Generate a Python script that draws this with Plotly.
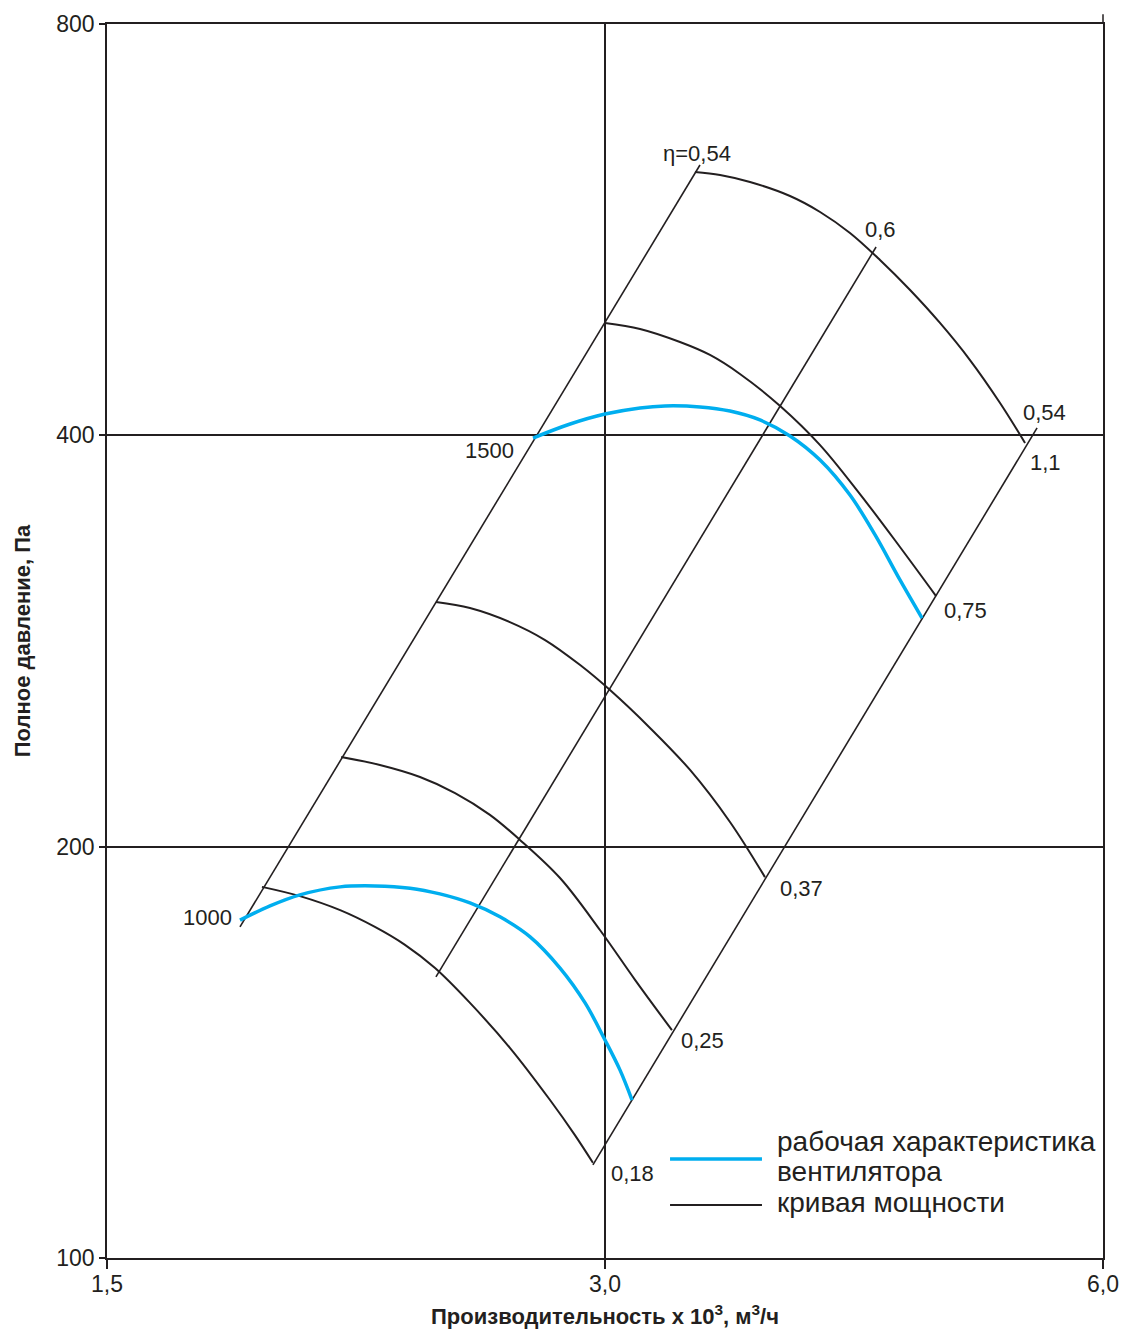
import math
import plotly.graph_objects as go

# ---- data (Q in 10^3 m3/h, P in Pa) ----
fan1500_q = [2.714, 2.858, 3.0, 3.150, 3.261, 3.424, 3.570, 3.722, 3.881, 4.047, 4.219, 4.369, 4.523, 4.664]
fan1500_p = [398.2, 407.7, 414.6, 418.9, 420.3, 419.6, 416.7, 410.5, 399.6, 383.7, 361.7, 338.2, 313.5, 294.0]

fan1000_q = [1.805, 1.882, 1.962, 2.075, 2.178, 2.287, 2.384, 2.486, 2.592, 2.703, 2.818, 2.918, 3.0, 3.063, 3.115]
fan1000_p = [176.7, 181.0, 184.4, 186.9, 187.2, 186.5, 184.7, 181.9, 177.7, 171.8, 163.0, 153.7, 144.4, 137.3, 130.5]

pw110_q = [3.400, 3.521, 3.671, 3.881, 4.047, 4.219, 4.399, 4.587, 4.782, 4.986, 5.199, 5.383]
pw110_p = [623.4, 620.3, 613.0, 598.7, 582.8, 562.5, 537.5, 511.0, 483.4, 454.1, 422.4, 394.9]

pw075_q = [3.0, 3.150, 3.330, 3.472, 3.620, 3.828, 4.047, 4.278, 4.523, 4.756]
pw075_p = [483.4, 478.5, 468.1, 458.0, 443.6, 420.3, 393.5, 362.3, 331.4, 305.1]

pw037_q = [2.371, 2.486, 2.628, 2.760, 2.898, 3.021, 3.194, 3.377, 3.570, 3.748]
pw037_p = [302.1, 299.0, 292.0, 283.3, 271.6, 260.4, 244.3, 227.6, 208.5, 190.0]

pw025_q = [2.078, 2.193, 2.319, 2.435, 2.556, 2.665, 2.818, 2.979, 3.128, 3.293]
pw025_p = [232.6, 229.5, 224.9, 218.9, 211.0, 202.3, 189.7, 173.8, 159.8, 146.8]

pw018_q = [1.861, 1.962, 2.075, 2.178, 2.271, 2.368, 2.486, 2.628, 2.779, 2.877, 2.950]
pw018_p = [186.9, 184.0, 179.7, 174.7, 169.5, 163.0, 153.7, 142.5, 130.5, 123.0, 117.4]

# straight efficiency / end lines
eta054_q = [1.805, 3.424]
eta054_p = [174.7, 630.8]
eta060_q = [2.371, 4.375]
eta060_p = [160.6, 549.4]
eta_end_q = [2.950, 5.474]
eta_end_p = [117.0, 405.0]

# labels on the chart
label_text = ["η=0,54", "0,6", "0,54", "1,1", "0,75", "0,37", "0,25", "0,18", "1500", "1000"]
label_q = [3.410, 4.405, 5.527, 5.535, 4.952, 3.941, 3.438, 3.115, 2.556, 1.724]
label_p = [643.7, 565.4, 416.0, 381.8, 298.0, 186.5, 144.2, 115.4, 389.6, 177.4]

x_ticks = [1.5, 3.0, 6.0]
x_ticktext = ["1,5", "3,0", "6,0"]
y_ticks = [100, 200, 400, 800]
y_ticktext = ["100", "200", "400", "800"]

legend_fan = "рабочая характеристика"
legend_fan2 = "вентилятора"
legend_power = "кривая мощности"

BLUE = "#00aeef"
BLACK = "#231f20"
FONT = "Liberation Sans, Arial, sans-serif"

fig = go.Figure()

black_sets = [
    (pw110_q, pw110_p), (pw075_q, pw075_p), (pw037_q, pw037_p),
    (pw025_q, pw025_p), (pw018_q, pw018_p),
]
for q, p in black_sets:
    fig.add_trace(go.Scatter(
        x=q, y=p, mode="lines", line=dict(color=BLACK, width=2, shape="spline"),
        name=legend_power, legendgroup="power", showlegend=False,
    ))

for q, p in [(eta054_q, eta054_p), (eta060_q, eta060_p), (eta_end_q, eta_end_p)]:
    fig.add_trace(go.Scatter(
        x=q, y=p, mode="lines", line=dict(color=BLACK, width=1.6),
        showlegend=False, hoverinfo="skip",
    ))

for q, p in [(fan1500_q, fan1500_p), (fan1000_q, fan1000_p)]:
    fig.add_trace(go.Scatter(
        x=q, y=p, mode="lines", line=dict(color=BLUE, width=3.5, shape="spline"),
        name=legend_fan + " " + legend_fan2, legendgroup="fan", showlegend=False,
    ))

for t, q, p in zip(label_text, label_q, label_p):
    fig.add_annotation(x=math.log10(q), y=math.log10(p), xref="x", yref="y",
                       text=t, showarrow=False,
                       font=dict(family=FONT, size=22, color=BLACK),
                       xanchor="center", yanchor="middle")

# manual legend (paper coordinates)
leg_x0, leg_x1, leg_tx = 0.5653, 0.6576, 0.6707
fig.add_shape(type="line", xref="paper", yref="paper", x0=leg_x0, x1=leg_x1,
              y0=0.0802, y1=0.0802, line=dict(color=BLUE, width=3.5))
fig.add_shape(type="line", xref="paper", yref="paper", x0=leg_x0, x1=leg_x1,
              y0=0.0430, y1=0.0430, line=dict(color=BLACK, width=2))
for t, yy in [(legend_fan, 0.0948), (legend_fan2, 0.0697), (legend_power, 0.0446)]:
    fig.add_annotation(x=leg_tx, y=yy, xref="paper", yref="paper", text=t,
                       showarrow=False, xanchor="left", yanchor="middle",
                       font=dict(family=FONT, size=28, color=BLACK))

# right frame line slightly overshoots the top edge, as in the original
fig.add_shape(type="line", xref="paper", yref="paper", x0=1, x1=1, y0=1, y1=1.008,
              line=dict(color=BLACK, width=1.5))

fig.update_layout(
    width=1123, height=1329,
    margin=dict(l=107, r=20, t=24, b=71),
    paper_bgcolor="white", plot_bgcolor="white",
    font=dict(family=FONT, color=BLACK),
    showlegend=False,
    xaxis=dict(type="log", range=[math.log10(1.5), math.log10(6.0)],
               automargin=False,
               tickvals=x_ticks, ticktext=x_ticktext,
               tickfont=dict(family=FONT, size=23, color=BLACK),
               ticks="outside", ticklen=9, tickcolor=BLACK, tickwidth=1.5,
               ticklabelstandoff=-4,
               showline=True, linecolor=BLACK, linewidth=1.5, mirror=True,
               showgrid=True, gridcolor=BLACK, gridwidth=1.5, zeroline=False,
               title=dict(text="<b>Производительность x 10<sup>3</sup>, м<sup>3</sup>/ч</b>",
                          font=dict(family=FONT, size=22, color=BLACK), standoff=12)),
    yaxis=dict(type="log", range=[2, math.log10(800)],
               automargin=False,
               tickvals=y_ticks, ticktext=y_ticktext,
               tickfont=dict(family=FONT, size=23, color=BLACK),
               ticks="outside", ticklen=6, tickcolor=BLACK, tickwidth=1.5,
               showline=True, linecolor=BLACK, linewidth=1.5, mirror=True,
               showgrid=True, gridcolor=BLACK, gridwidth=1.5, zeroline=False,
               title=dict(text="<b>Полное давление, Па</b>",
                          font=dict(family=FONT, size=22, color=BLACK), standoff=20)),
)

fig.write_html("out.html", config={"displayModeBar": False},
               post_script="document.body.style.margin='0';document.body.style.overflow='hidden';")
